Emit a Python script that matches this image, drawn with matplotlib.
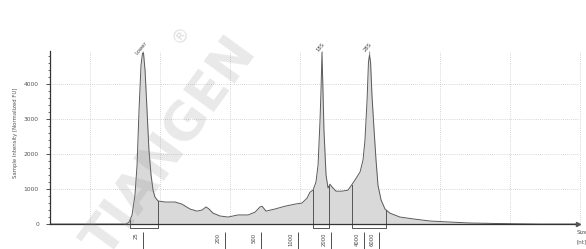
import numpy as np
import matplotlib.pyplot as plt
from matplotlib.ticker import FixedLocator

# electropherogram trace: migration time [s] vs intensity [FU]
time_s = [17.14, 18.93, 21.43, 22.57, 22.79, 23.0, 23.21, 23.36, 23.5, 23.64,
          23.75, 23.82, 23.93, 24.07, 24.21, 24.36, 24.5, 24.64, 24.86, 25.36,
          26.07, 26.57, 27.14, 27.64, 28.0, 28.29, 28.5, 28.79, 29.29, 29.86,
          30.57, 31.29, 31.79, 32.14, 32.29, 32.57, 33.21, 33.93, 34.64, 35.14,
          35.5, 35.71, 35.93, 36.14, 36.29, 36.43, 36.5, 36.57, 36.64, 36.71,
          36.86, 37.0, 37.14, 37.29, 37.57, 38.0, 38.43, 38.64, 38.93, 39.29,
          39.5, 39.64, 39.79, 39.89, 39.96, 40.04, 40.14, 40.29, 40.43, 40.57,
          40.79, 41.07, 41.43, 42.14, 43.21, 44.29, 45.71, 47.14, 49.29, 52.14,
          54.86]
fu = [0, 0, 0, 0, 57, 257, 830, 1690, 3260, 4540,
      4890, 4890, 4400, 3260, 2110, 1400, 970, 770, 660, 630,
      630, 570, 430, 370, 400, 490, 430, 310, 230, 200,
      260, 260, 340, 490, 510, 370, 430, 510, 570, 600,
      740, 910, 970, 1200, 1690, 2970, 3830, 4910, 3830, 2690,
      1400, 1030, 1140, 1060, 940, 940, 970, 1090, 1260, 1490,
      1830, 2400, 3540, 4630, 4830, 4630, 3690, 2690, 1830, 1110,
      690, 430, 310, 200, 140, 86, 57, 29, 14, 0,
      0]

peak_names = ['Lower', '18S', '28S']
peak_time = [23.79, 36.57, 39.96]
peak_start = [22.86, 35.93, 38.71]
peak_end = [24.86, 37.07, 41.14]

ladder_nt = ['25', '200', '500', '1000', '2000', '4000', '6000']
ladder_time = [23.79, 29.64, 32.21, 34.86, 37.21, 39.57, 40.64]

grid_time = [20, 25, 30, 35, 40, 45, 50, 55]
ymajor = [0, 1000, 2000, 3000, 4000]

fig = plt.figure(figsize=(5.86, 2.49), dpi=100)
ax = fig.add_axes([50 / 586, 0, 1 - 50 / 586, (249 - 51) / 249])
xmin, xmax = 17.14, 55.43
ax.set_xlim(xmin, xmax)
ax.set_ylim(-714, 4950)

gray = '#555555'
# grid
ax.hlines(ymajor[1:], xmin, 54.9, colors='#c8c8c8', linestyles=(0, (1, 1.5)), lw=0.6, zorder=0)
ax.vlines(grid_time, 0, 4950, colors='#c8c8c8', linestyles=(0, (1, 1.5)), lw=0.6, zorder=0)

# trace
ax.fill_between(time_s, fu, 0, color='#d9d9d9', lw=0, zorder=1)
ax.plot(time_s, fu, color='#5a5a5a', lw=0.7, zorder=2)

# peak integration boxes
for a, b in zip(peak_start, peak_end):
    ya = np.interp(a, time_s, fu)
    yb = np.interp(b, time_s, fu)
    ax.plot([a, a, b, b], [ya, -114, -114, yb], color='#555555', lw=0.7, zorder=3)

# peak labels
for name, t in zip(peak_names, peak_time):
    ax.vlines(t, np.interp(t, time_s, fu), 4950, colors='#777777', lw=0.5, zorder=2)
    ax.text(t, 5000, name, rotation=50, fontsize=3.8, color='#444444',
            ha='center', va='bottom', rotation_mode='anchor', clip_on=False)

# x axis with arrow
ax.plot([xmin, 54.86], [0, 0], color='#333333', lw=0.9, zorder=4)
ax.plot([54.86], [0], marker='>', ms=3, color='#555555', zorder=4)
ax.text(54.75, -250, 'Size', fontsize=4, color=gray, ha='left', va='center')
ax.text(54.75, -520, '[nt]', fontsize=4, color=gray, ha='left', va='center')

# ladder ticks
ax.vlines(ladder_time, -229, -714, colors='#333333', lw=0.6)
for lab, t in zip(ladder_nt, ladder_time):
    ax.text(t - 0.3, -240, lab, rotation=90, fontsize=3.8, color='#444444',
            ha='right', va='top')

# y axis
for s in ['top', 'right', 'bottom']:
    ax.spines[s].set_visible(False)
ax.spines['left'].set_bounds(0, 4950)
ax.spines['left'].set_color('#333333')
ax.spines['left'].set_linewidth(0.9)
ax.set_xticks([])
ax.set_yticks(ymajor)
ax.yaxis.set_minor_locator(FixedLocator(list(range(200, 4950, 200))))
ax.tick_params(axis='y', which='major', length=3, width=0.6, color='#333333',
               labelsize=4.3, labelcolor=gray, pad=5)
ax.tick_params(axis='y', which='minor', length=1.8, width=0.5, color='#333333')
ax.set_ylabel('Sample Intensity [Normalized FU]', fontsize=3.9, color=gray)
ax.yaxis.set_label_coords(-0.06, 1 - (133 - 51) / 198, transform=ax.transAxes)

# watermark
fig.text(172 / 586, 1 - 148 / 249, 'TIANGEN', rotation=54, fontsize=37,
         fontweight='bold', color='#909090', alpha=0.2, ha='center', va='center', zorder=10)
fig.text(181 / 586, 1 - 35 / 249, '\u00ae', rotation=54, fontsize=13,
         color='#909090', alpha=0.28, ha='center', va='center', zorder=10)

fig.savefig('out.png', dpi=100)
